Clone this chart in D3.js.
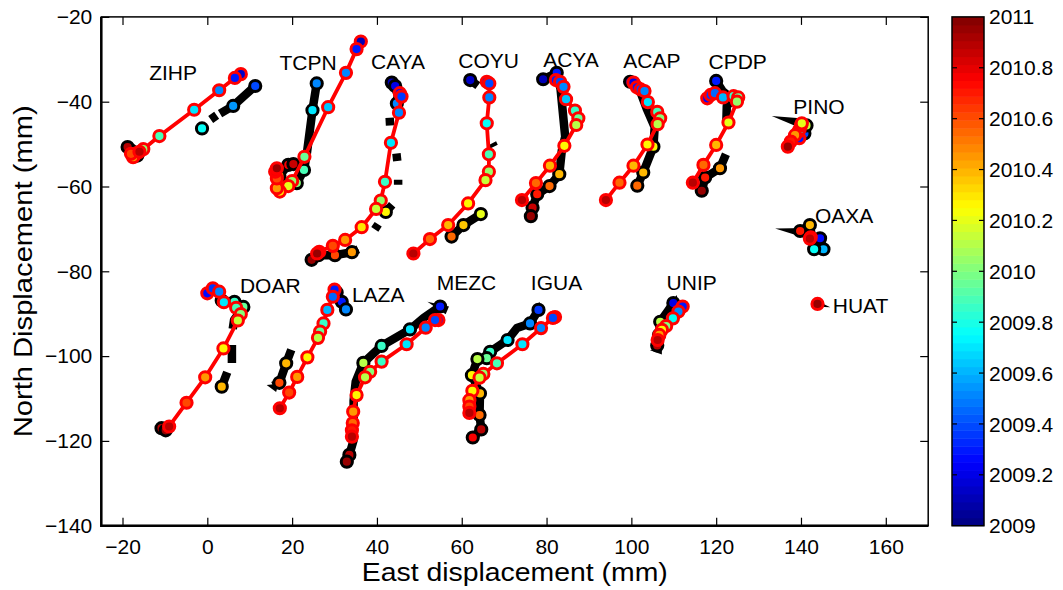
<!DOCTYPE html>
<html>
<head>
<meta charset="utf-8">
<script src="https://cdn.jsdelivr.net/npm/d3@7"></script>
<style>
  body { margin: 0; background: #fff; }
  svg text { font-family: "Liberation Sans", Arial, Helvetica, sans-serif; fill: #000; }
</style>
</head>
<body>
<div id="chart"></div>
<script>
// ---- data: [east mm, north mm, decimal year]; null = gap, null year = line vertex only ----
const zihpRed = [[7.9,-33.5,2009.15],[6.5,-34.4,2009.3],[2.8,-37.3,2009.5],[-3.1,-41.9,2009.7],[-11.3,-48.1,2009.9],[-15.1,-51.2,2010.05],[-16.7,-52.2,2010.25],[-17.5,-53.1,2010.45],[-18,-52.3,2010.6],[-16,-51.8,2010.9]];
const zihpBlack = [[11.3,-36.3,2009.4],[8.5,-38.8,null],[6.1,-41,2009.55],[3,-42.8,null],null,[2.2,-43.2,null],[0.8,-44.2,null],null,[-1.25,-46.3,2009.75],null,[-16.5,-52.7,2010.5],[-18,-51.5,2010.7],[-18.8,-50.7,2010.9]];

const tcpnRed = [[36.2,-25.8,2009.1],[35.2,-27.6,2009.3],[32.7,-33.2,2009.5],[28.5,-41.3,2009.65],[22.9,-53.0,2009.95],[20,-58.7,2010.05],[19.1,-59.9,2010.2],[17.1,-61.2,2010.3],[16.4,-60.4,2010.45],[16.4,-58.1,2010.6],[16,-56.5,2010.75],[16.4,-55.7,2010.95]];
const tcpnBlack = [[25.8,-35.7,2009.5],[24.8,-42,2009.7],[23.5,-52,null],[22.8,-56.1,2009.9],[21.1,-59.2,2010.0],[18.5,-59.5,2010.3],[17,-57.5,2010.5],[19.1,-54.9,2010.75],[20.3,-54.7,2010.85]];

const cayaRed = [[45.4,-38,2009.25],[45.8,-38.8,2009.35],[45.2,-42.6,2009.5],[43.3,-49.7,2009.7],[41.9,-58.9,2009.85],[40.9,-63.3,2010.05],[39.8,-65.3,2010.15],[36.4,-69.6,2010.3],[32.5,-72.6,2010.45],[29.6,-74,2010.6],[26.4,-75.4,2010.75],[25.9,-75.8,2010.95]];
const cayaBlack = [[43.5,-35.5,2009.1],[44.3,-36.3,2009.2],[44.9,-38.5,null],[44.7,-40.4,2009.5],null,[43,-43.8,null],[43.1,-45.6,null],null,[44.6,-52.2,null],[44.8,-54,null],null,[45,-58.4,null],[45,-59.6,null],null,[43.6,-64.3,null],[42.1,-66,2010.25],[41.5,-67,null],null,[40.3,-68.9,null],[39.5,-70.1,null],null,[35.6,-74.8,null],[34.1,-75.5,2010.45],[30.1,-76.2,2010.6],[26.2,-76.2,2010.8],[24.6,-77.3,2010.95]];

const coyuRed = [[65.9,-35.3,2009.3],[66.5,-35.7,2009.4],[66.5,-39,2009.5],[65.9,-45.1,2009.75],[66.4,-52.4,2009.9],[66.4,-56.5,2010.05],[65.6,-58.5,2010.15],[61.5,-64,2010.25],[56.8,-69.1,2010.4],[52.5,-72.4,2010.55],[48.6,-75.8,2010.9]];
const coyuBlack = [[62,-34.9,2009.15],[63.8,-36.2,null],null,[67.2,-49.8,null],[67.6,-50.6,null],null,[64.5,-66.5,2010.2],[60.4,-69.1,2010.35],[57.6,-71.8,2010.55]];

const acyaRed = [[82.2,-34.9,2009.3],[83.2,-35.3,2009.4],[84,-36.5,2009.5],[84.6,-39.4,2009.65],[86.7,-42.1,2009.85],[87.5,-43.9,2009.95],[87,-45.5,2010.1],[84.2,-50.4,2010.25],[80.8,-55.1,2010.4],[77.5,-59.2,2010.55],[74.2,-63.2,2010.9]];
const acyaBlack = [[79.2,-34.7,2009.1],[82.4,-33.2,2009.3],[83.3,-37,null],[84.4,-48.3,null],[83.6,-51.5,null],[83,-57.1,2010.4],[80.7,-59.9,2010.55],[77.8,-61.8,2010.7],[76.7,-65,2010.85],[76.3,-67,2010.95]];

const acapRed = [[100.5,-35.5,2009.2],[101.3,-36.6,2009.3],[102.2,-37.1,2009.4],[103.1,-37.5,2009.5],[103.9,-40.1,2009.7],[106.1,-42.4,2009.9],[106.8,-43.9,2010.0],[106.2,-45.3,2010.1],[103.8,-50.1,2010.25],[100.5,-55.1,2010.4],[97.2,-59.1,2010.55],[94,-63.2,2010.9]];
const acapBlack = [[99.7,-35.3,2009.1],[101.5,-36,null],[103.6,-41.6,null],[105.5,-46,null],[105.2,-50.6,2010.25],[102.8,-56.7,2010.4],[101.4,-59.8,2010.55]];

const cpdpRed = [[117.9,-39.2,2009.25],[118.7,-38.4,2009.35],[119.7,-38,2009.45],[121.6,-39,2009.6],[124.1,-38.7,2009.85],[125.2,-39,2009.95],[124.9,-40,2010.05],[122.9,-44.9,2010.2],[120,-50.2,2010.4],[117,-54.9,2010.55],[114.5,-59.1,2010.9]];
const cpdpBlack = [[120,-35.1,2009.3],[121.5,-37.5,null],[124,-39.5,null],[122.5,-41,null],[122.4,-45,null],null,[122.3,-52.4,null],[120.9,-55.7,2010.45],[117.4,-57.9,2010.7],[116.6,-61,2010.95]];

const pinoRed = [[139.6,-48.6,2009.3],[139.4,-47.1,2009.6],[139.7,-46.5,2009.75],[140,-45.6,2010],[140.2,-45.1,2010.2],[138.6,-47.9,2010.45],[137.6,-49.4,2010.7],[136.9,-50.6,2010.95]];
const pinoBlack = [[140.8,-47.5,2009.4],[141.3,-45.6,2010.15]];

const oaxaRed = [[142.3,-72,2010.2],[142.1,-72.3,2010.9]];
const oaxaBlack = [[144.5,-72.2,2009.25],[145.3,-74.8,2009.6],[143.1,-74.8,2009.75],[142.1,-69.1,2010.4],[139.8,-70.5,2010.7]];

const huatRed = [[143.9,-87.7,2010.95]];
const huatBlack = [];

const doarRed = [[0,-85.2,2009.25],[1.3,-84,2009.35],[2.8,-84.8,2009.5],[3.9,-87.3,2009.7],[6.8,-88.6,2009.9],[7.9,-90.1,2010.0],[7.2,-91.6,2010.15],[3.8,-98.2,2010.25],[-0.5,-105,2010.45],[-4.9,-111,2010.6],[-9,-116.6,2010.9]];
const doarBlack = [[3.4,-86.9,2009.6],[6.4,-87.2,2009.85],[8.5,-88.4,2009.95],[6.3,-91.5,null],[6,-93.6,null],null,[5.8,-97.4,null],[5.8,-101.6,null],null,[4.7,-103.8,null],[3.4,-107.2,2010.4],null,[-10.8,-117,2010.9],[-9.8,-117.5,2010.95]];

const lazaRed = [[30,-84.3,2009.3],[29.6,-86,2009.45],[28.3,-89.1,2009.6],[27.4,-92.3,2009.85],[26.6,-94.2,2009.95],[26.1,-95.7,2010.1],[23.6,-100.3,2010.25],[21.2,-104.9,2010.45],[19.3,-108.6,2010.6],[17.1,-112.3,2010.9]];
const lazaBlack = [[30.5,-85,2009.15],[31.7,-87.2,2009.3],[32.7,-89,2009.5],null,[19.8,-98.5,null],[18.6,-101.7,2010.4],[17,-106.3,2010.6],[15.5,-107,null]];

const mezcRed = [[54.5,-91.5,2009.3],[53.7,-91.5,2009.4],[51.5,-93.3,2009.5],[47,-97.2,2009.7],[41.1,-101.3,2009.85],[38.4,-103.7,2010],[37.2,-105,2010.1],[35.2,-109.2,2010.25],[34.4,-113.1,2010.45],[34.3,-115.8,2010.55],[34.1,-117.5,2010.7],[34.1,-119,2010.9]];
const mezcBlack = [[54.9,-88.3,2009.3],[51,-91,null],[47.8,-93.7,2009.7],[41.1,-97.6,2009.85],[38.5,-100,null],[36.8,-101.6,2010.1],[35,-106,null],[34.5,-110.5,null],[34.5,-116,null],[34.5,-119.8,null],[33.5,-123.3,2010.9],[32.9,-124.9,2010.95]];

const iguaRed = [[82,-90.8,2009.3],[81.5,-91,2009.4],[78.7,-93.4,2009.5],[74.3,-97.2,2009.7],[68.3,-101.7,2009.9],[65.1,-104.2,2010.05],[64.2,-105.1,2010.15],[62.5,-108.2,2010.25],[61.8,-110.4,2010.45],[61.8,-111.9,2010.6],[61.8,-113.4,2010.9]];
const iguaBlack = [[78.1,-89.1,2009.35],[76.1,-92.3,2009.5],[73,-93.4,null],[70.8,-96.2,2009.7],[66.7,-99,2009.85],[65.9,-100.5,2009.95],[63.7,-100.7,2010.1],[62.4,-104.5,2010.25],[64.3,-108.8,2010.4],[64.2,-113.9,2010.55],[64.6,-117.3,2010.9],[62.6,-119.2,2010.75]];

const unipRed = [[112.1,-88.3,2009.3],[111.1,-89.5,2009.5],[109.8,-91.1,2009.75],[108.2,-92.9,2010],[107.2,-93.8,2010.25],[106.6,-95,2010.45],[106.2,-96.2,2010.9]];
const unipBlack = [[109.9,-87.5,2009.2],[108.5,-89.5,null],[106.8,-91.9,2010.1],[106.5,-95,2010.5],[106.1,-97.5,2010.9]];

// station labels: left edge / baseline, data units
const stationNames = ['ZIHP','TCPN','CAYA','COYU','ACYA','ACAP','CPDP','PINO','OAXA','HUAT','DOAR','LAZA','MEZC','IGUA','UNIP'];
const labelX = [-13.7, 17.0, 38.6, 59.2, 79.2, 98.1, 118.2, 138.2, 143.3, 147.5, 7.7, 34.1, 54.1, 76.3, 108.3];
const labelY = [-34.9, -32.5, -32.3, -32.0, -31.7, -32.1, -32.3, -42.9, -68.5, -89.8, -85.2, -87.2, -84.4, -84.4, -84.4];

// black wedges: [tip east, tip north, base east, base north, half width]
const wedges = [[133.1,-43.4,141,-45.3,1.3],[133.9,-69.9,141.4,-71,1.2],[146.9,-88.5,144.2,-87.8,0.6],[51.9,-87.2,56.6,-89.2,1.0],[78.3,-87.2,78.1,-89.5,1.0],[110.7,-85.6,110.2,-87.8,1.0],[104.4,-98.6,107.2,-98.6,1.0],[14,-106.8,16.5,-107.5,1.0],[-12,-116.9,-9.5,-117.3,0.9]];

const xTicks = [-20, 0, 20, 40, 60, 80, 100, 120, 140, 160];
const yTicks = [-140, -120, -100, -80, -60, -40, -20];
const cbTicks = [2009, 2009.2, 2009.4, 2009.6, 2009.8, 2010, 2010.2, 2010.4, 2010.6, 2010.8, 2011];

const blackTracks = [zihpBlack, tcpnBlack, cayaBlack, coyuBlack, acyaBlack, acapBlack, cpdpBlack, pinoBlack, oaxaBlack, huatBlack, doarBlack, lazaBlack, mezcBlack, iguaBlack, unipBlack];
const redTracks = [zihpRed, tcpnRed, cayaRed, coyuRed, acyaRed, acapRed, cpdpRed, pinoRed, oaxaRed, huatRed, doarRed, lazaRed, mezcRed, iguaRed, unipRed];

// ---- setup ----
const W = 1063, H = 590;
const plot = { left: 101.3, right: 928.2, top: 16.9, bottom: 525.7 };
const cb = { left: 952, right: 984 };

const svg = d3.select('#chart').append('svg')
  .attr('width', W).attr('height', H);

const x = d3.scaleLinear().domain([-25, 170]).range([plot.left, plot.right]);
const y = d3.scaleLinear().domain([-140, -20]).range([plot.bottom, plot.top]);
const tScale = d3.scaleLinear().domain([2009, 2011]).range([plot.bottom, plot.top]);

// jet colormap, 64 levels like matlab
function jet(t) {
  let v = (t - 2009) / 2;
  let i = Math.max(0, Math.min(63, Math.floor(v * 64)));
  v = (i + 0.5) / 64;
  const c = a => Math.round(255 * Math.max(0, Math.min(1, 1.5 - Math.abs(4 * v - a))));
  return `rgb(${c(3)},${c(2)},${c(1)})`;
}

// ---- axes ----
const fmt = d => d < 0 ? '\u2212' + Math.abs(d) : String(d);

svg.append('g')
  .attr('transform', `translate(0,${plot.bottom})`)
  .call(d3.axisBottom(x).tickValues(xTicks).tickFormat(fmt).tickSizeInner(-8).tickSizeOuter(0).tickPadding(13));
svg.append('g')
  .attr('transform', `translate(${plot.left},0)`)
  .call(d3.axisLeft(y).tickValues(yTicks).tickFormat(fmt).tickSizeInner(-8).tickSizeOuter(0).tickPadding(9));
svg.append('g')
  .attr('transform', `translate(0,${plot.top})`)
  .call(d3.axisTop(x).tickValues(xTicks).tickFormat('').tickSizeInner(-8).tickSizeOuter(0));
svg.append('g')
  .attr('transform', `translate(${plot.right},0)`)
  .call(d3.axisRight(y).tickValues(yTicks).tickFormat('').tickSizeInner(-8).tickSizeOuter(0));

svg.selectAll('.domain').remove();
svg.selectAll('.tick line').attr('stroke', '#000').attr('stroke-width', 1.2);
svg.selectAll('.tick text').style('font-size', '21px');

// box
svg.append('rect')
  .attr('x', plot.left).attr('y', plot.top)
  .attr('width', plot.right - plot.left).attr('height', plot.bottom - plot.top)
  .attr('fill', 'none').attr('stroke', '#000').attr('stroke-width', 1.5);
svg.append('path')
  .attr('d', `M${plot.left},${plot.top}V${plot.bottom}H${plot.right}`)
  .attr('fill', 'none').attr('stroke', '#000').attr('stroke-width', 2.5);

// axis titles
svg.append('text')
  .attr('x', (plot.left + plot.right) / 2).attr('y', 581)
  .attr('text-anchor', 'middle').style('font-size', '26px')
  .attr('textLength', 306).attr('lengthAdjust', 'spacingAndGlyphs')
  .text('East displacement (mm)');
svg.append('text')
  .attr('transform', `translate(32,${(plot.top + plot.bottom) / 2}) rotate(-90)`)
  .attr('text-anchor', 'middle').style('font-size', '26px')
  .attr('textLength', 332).attr('lengthAdjust', 'spacingAndGlyphs')
  .text('North Displacement (mm)');

// ---- tracks ----
const line = d3.line()
  .defined(d => d !== null)
  .x(d => x(d[0]))
  .y(d => y(d[1]));

const marks = svg.append('g');

marks.selectAll('.black-line')
  .data(blackTracks.filter(t => t.length > 0))
  .enter().append('path')
  .attr('d', line)
  .attr('fill', 'none').attr('stroke', '#000')
  .attr('stroke-width', 8.5).attr('stroke-linejoin', 'round');

marks.selectAll('.wedge')
  .data(wedges)
  .enter().append('path')
  .attr('d', w => {
    const tx = x(w[0]), ty = y(w[1]), bx = x(w[2]), by = y(w[3]);
    const dx = bx - tx, dy = by - ty, len = Math.hypot(dx, dy) || 1;
    const hw = w[4] * 4.24;
    const nx = -dy / len * hw, ny = dx / len * hw;
    return `M${tx},${ty}L${bx + nx},${by + ny}L${bx - nx},${by - ny}Z`;
  })
  .attr('fill', '#000');

const blackPts = blackTracks.flat().filter(d => d && d[2] !== null);
marks.selectAll('.black-pt')
  .data(blackPts)
  .enter().append('circle')
  .attr('cx', d => x(d[0])).attr('cy', d => y(d[1]))
  .attr('r', 5.6)
  .attr('fill', d => jet(d[2]))
  .attr('stroke', '#000').attr('stroke-width', 3);

marks.selectAll('.red-line')
  .data(redTracks)
  .enter().append('path')
  .attr('d', line)
  .attr('fill', 'none').attr('stroke', '#ff0000')
  .attr('stroke-width', 3.8).attr('stroke-linejoin', 'round');

const redPts = redTracks.flat().filter(d => d && d[2] !== null);
marks.selectAll('.red-pt')
  .data(redPts)
  .enter().append('circle')
  .attr('cx', d => x(d[0])).attr('cy', d => y(d[1]))
  .attr('r', 5.6)
  .attr('fill', d => jet(d[2]))
  .attr('stroke', '#ff0000').attr('stroke-width', 3);

// station labels
svg.selectAll('.station')
  .data(stationNames)
  .enter().append('text')
  .attr('x', (d, i) => x(labelX[i]))
  .attr('y', (d, i) => y(labelY[i]))
  .style('font-size', '21px')
  .text(d => d);

// ---- colorbar ----
const bands = d3.range(64).map(i => 2009 + i * 2 / 64);
svg.selectAll('.band')
  .data(bands)
  .enter().append('rect')
  .attr('x', cb.left)
  .attr('y', d => tScale(d + 2 / 64))
  .attr('width', cb.right - cb.left)
  .attr('height', d => tScale(d) - tScale(d + 2 / 64) + 0.5)
  .attr('fill', d => jet(d + 1 / 64));

svg.append('rect')
  .attr('x', cb.left).attr('y', plot.top)
  .attr('width', cb.right - cb.left).attr('height', plot.bottom - plot.top)
  .attr('fill', 'none').attr('stroke', '#000').attr('stroke-width', 1.5);

const inner = cbTicks.slice(1, -1);
svg.selectAll('.cbtick-l')
  .data(inner).enter().append('line')
  .attr('x1', cb.left).attr('x2', cb.left + 5)
  .attr('y1', d => tScale(d)).attr('y2', d => tScale(d))
  .attr('stroke', '#000').attr('stroke-width', 1.2);
svg.selectAll('.cbtick-r')
  .data(inner).enter().append('line')
  .attr('x1', cb.right - 5).attr('x2', cb.right)
  .attr('y1', d => tScale(d)).attr('y2', d => tScale(d))
  .attr('stroke', '#000').attr('stroke-width', 1.2);

svg.selectAll('.cblabel')
  .data(cbTicks).enter().append('text')
  .attr('x', cb.right + 5)
  .attr('y', d => tScale(d))
  .attr('dy', '0.36em')
  .style('font-size', '21px')
  .text(d => d3.format('.1f')(d).replace(/\.0$/, ''));
</script>
</body>
</html>
